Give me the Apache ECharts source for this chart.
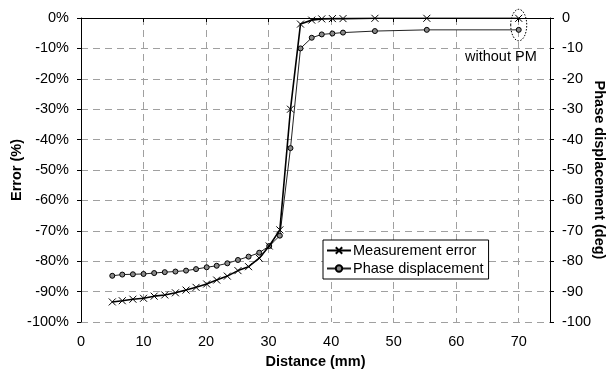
<!DOCTYPE html>
<html>
<head>
<meta charset="utf-8">
<script src="https://cdn.jsdelivr.net/npm/echarts@6/dist/echarts.min.js"></script>
<style>
html,body{margin:0;padding:0;background:#fff;}
#c{width:609px;height:374px;}
</style>
</head>
<body>
<div id="c"></div>
<script>
// Data
var distance = [5, 6.6, 8.3, 10, 11.7, 13.4, 15.1, 16.8, 18.4, 20.1, 21.7, 23.4, 25.1, 26.8, 28.5, 30.1, 31.8, 33.5, 35.1, 36.9, 38.5, 40.2, 41.9, 47, 55.3, 70];
var measurementError = [-93.4, -93.0, -92.5, -92.2, -91.5, -91.1, -90.4, -89.5, -88.6, -87.5, -86.2, -84.9, -83.1, -81.8, -79.0, -75.0, -69.7, -30.0, -2.0, -0.7, -0.3, -0.2, -0.2, -0.1, -0.1, -0.1];
var phaseDisplacement = [-84.8, -84.4, -84.3, -84.2, -83.9, -83.6, -83.4, -83.1, -82.6, -82.0, -81.5, -80.7, -79.6, -78.5, -77.2, -75.0, -71.6, -42.8, -10.0, -6.5, -5.4, -5.1, -4.8, -4.3, -3.9, -3.9];
var xTicks = [0, 10, 20, 30, 40, 50, 60, 70];
var annotationText = 'without PM';

var FONT = '"Liberation Sans", Arial, sans-serif';
var crossPath = 'path://M0,0L10,10M10,0L0,10';

function pairs(xs, ys) { return xs.map(function (x, i) { return [x, ys[i]]; }); }

var chart = echarts.init(document.getElementById('c'), null, {renderer: 'canvas'});
var gridLine = {show: true, lineStyle: {color: '#a0a0a0', type: [7, 5], width: 1}};
var tickFont = {fontFamily: FONT, fontSize: 14.5, color: '#000'};
var titleFont = {fontFamily: FONT, fontSize: 14.5, fontWeight: 'bold', color: '#000'};
chart.setOption({
  animation: false,
  backgroundColor: '#fff',
  textStyle: {fontFamily: FONT},
  grid: {left: 81, right: 59, top: 18, bottom: 52, containLabel: false, outerBoundsMode: 'none'},
  legend: {
    orient: 'vertical',
    left: 323, top: 240,
    padding: [3, 5, 3, 3],
    itemGap: 3,
    itemWidth: 24, itemHeight: 8,
    borderColor: '#000', borderWidth: 1, backgroundColor: '#fff',
    textStyle: {fontFamily: FONT, fontSize: 14.5, color: '#000', padding: [0, 0, 0, -3]},
    data: ['Measurement error', 'Phase displacement']
  },
  xAxis: {
    type: 'value', min: 0, max: 75, interval: 10,
    name: 'Distance (mm)', nameLocation: 'middle', nameGap: 32, nameMoveOverlap: false,
    nameTextStyle: titleFont,
    axisLine: {show: true, lineStyle: {color: '#000', width: 1}},
    axisTick: {show: true, length: 4, lineStyle: {color: '#000'}},
    axisLabel: Object.assign({showMaxLabel: false, margin: 12,
      formatter: function (v) { return xTicks.indexOf(v) >= 0 ? String(v) : ''; }}, tickFont),
    splitLine: gridLine
  },
  yAxis: [{
    type: 'value', min: -100, max: 0, interval: 10, position: 'left',
    name: 'Error (%)', nameLocation: 'middle', nameGap: 57, nameRotate: 90, nameMoveOverlap: false,
    nameTextStyle: titleFont,
    axisLine: {show: true, onZero: false, lineStyle: {color: '#000', width: 1}},
    axisTick: {show: true, length: 4, lineStyle: {color: '#000'}},
    axisLabel: Object.assign({margin: 12, formatter: '{value}%'}, tickFont),
    splitLine: gridLine
  }, {
    type: 'value', min: -100, max: 0, interval: 10, position: 'right',
    name: 'Phase displacement (deg)', nameLocation: 'middle', nameGap: 41, nameRotate: -90, nameMoveOverlap: false,
    nameTextStyle: titleFont,
    axisLine: {show: true, onZero: false, lineStyle: {color: '#000', width: 1}},
    axisTick: {show: true, length: 4, inside: false, lineStyle: {color: '#000'}},
    axisLabel: Object.assign({margin: 12}, tickFont),
    splitLine: {show: false}
  }],
  series: [{
    name: 'Measurement error', type: 'line', yAxisIndex: 0,
    data: pairs(distance, measurementError),
    symbol: crossPath, symbolSize: 7, showAllSymbol: true,
    lineStyle: {color: '#000', width: 1.6},
    itemStyle: {color: '#000', borderColor: '#000', borderWidth: 1},
    z: 3
  }, {
    name: 'Phase displacement', type: 'line', yAxisIndex: 1,
    data: pairs(distance, phaseDisplacement),
    symbol: 'circle', symbolSize: 5, showAllSymbol: true,
    lineStyle: {color: '#222', width: 1},
    itemStyle: {color: '#8a8a8a', borderColor: '#000', borderWidth: 1},
    z: 2
  }]
});

// Annotation: dotted ellipse around the last points and a label, positioned via data coordinates
var lastX = distance[distance.length - 1];
var pTop = chart.convertToPixel({xAxisIndex: 0, yAxisIndex: 0}, [lastX, measurementError[measurementError.length - 1]]);
var pBot = chart.convertToPixel({xAxisIndex: 0, yAxisIndex: 1}, [lastX, phaseDisplacement[phaseDisplacement.length - 1]]);
var cy = (pTop[1] + pBot[1]) / 2;
chart.setOption({
  graphic: [{
    type: 'ellipse',
    shape: {cx: pTop[0], cy: cy + 1, rx: 8, ry: (pBot[1] - pTop[1]) / 2 + 10},
    style: {fill: 'none', stroke: '#000', lineWidth: 1, lineDash: [1.5, 1.5]},
    z: 10
  }, {
    type: 'text',
    x: pTop[0] + 18, y: pBot[1] + 27,
    style: {text: annotationText, fill: '#000', font: '14.5px ' + FONT, textAlign: 'right', textVerticalAlign: 'middle'},
    z: 10
  }]
});
</script>
</body>
</html>
